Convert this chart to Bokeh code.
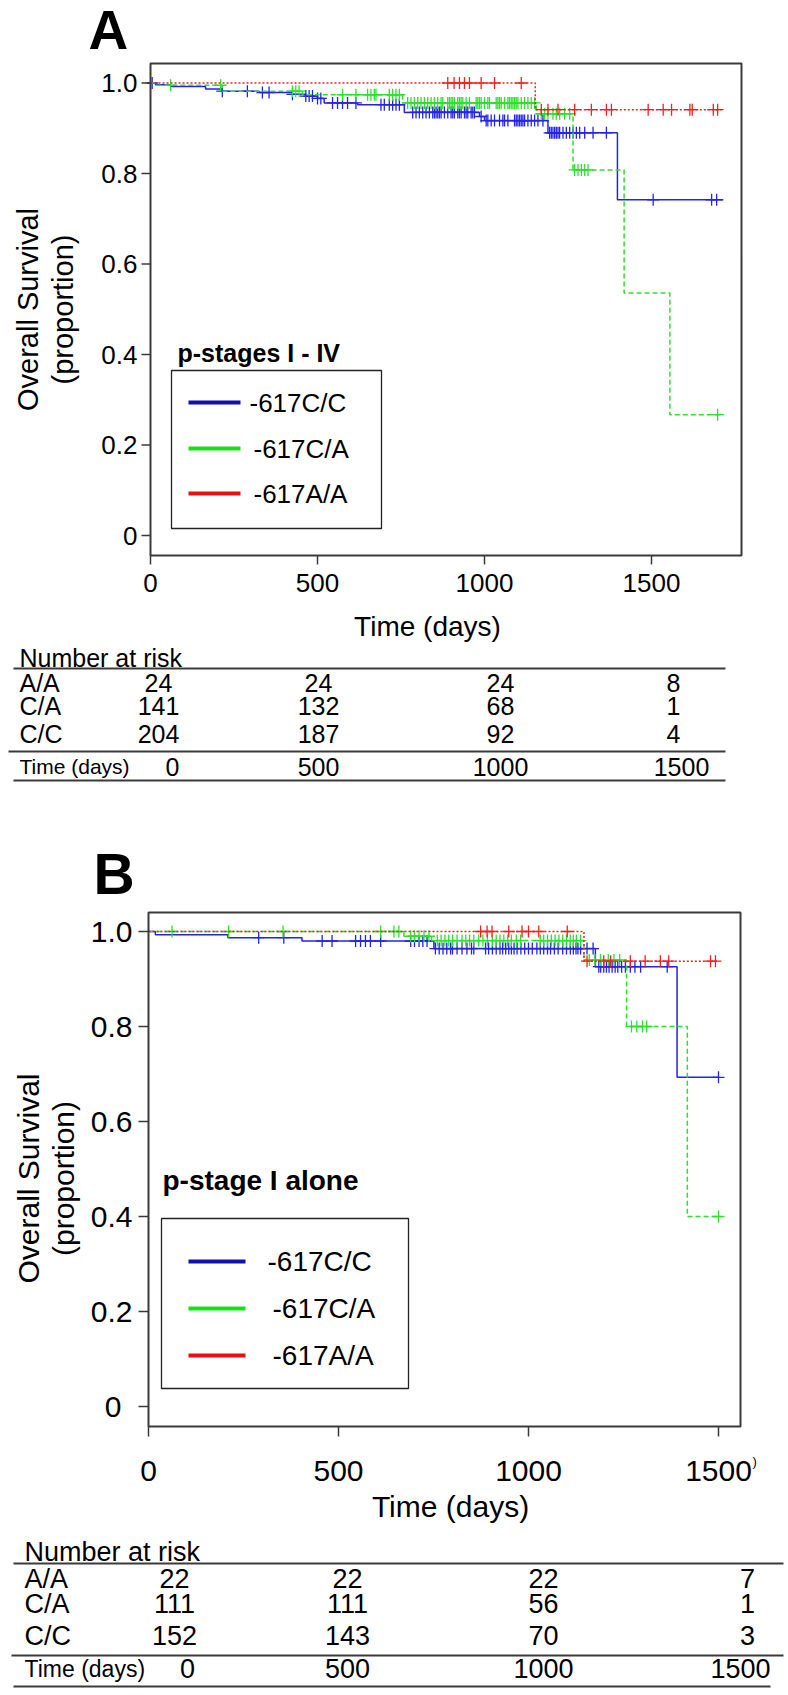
import math
import numpy as np
from bokeh.plotting import figure
from bokeh.models import Range1d
from bokeh.embed import file_html
from bokeh.resources import INLINE
from bokeh.core.properties import value

# ------------------------------------------------------------------ data
GENOTYPES = ["-617C/C", "-617C/A", "-617A/A"]
TIME_TICKS = [0, 500, 1000, 1500]
TIME_LABELS = ["0", "500", "1000", "1500"]
SURV_TICKS = [0, 0.2, 0.4, 0.6, 0.8, 1.0]
SURV_LABELS = ["0", "0.2", "0.4", "0.6", "0.8", "1.0"]

# Panel A: p-stages I - IV  (step times in days, survival after each step, censor times)
A_cc_t = [0, 15, 60, 165, 215, 325, 425, 465, 500, 520, 620, 760, 985, 1000, 1190, 1398, 1715]
A_cc_s = [1.0, 0.996, 0.992, 0.987, 0.982, 0.979, 0.975, 0.971, 0.966, 0.956, 0.952, 0.935,
          0.926, 0.917, 0.890, 0.742, 0.742]
A_cc_cens = [5, 215, 290, 335, 355, 425, 465, 475, 485, 500, 510, 545, 560, 575, 590, 615,
             690, 700, 715, 725, 735, 745, 785, 795, 805, 815, 825, 835, 845, 850, 855, 860,
             865, 870, 880, 890, 900, 905, 910, 920, 925, 930, 940, 945, 950, 960, 965, 970,
             990, 1005, 1010, 1020, 1030, 1045, 1055, 1060, 1070, 1090, 1095, 1100, 1105,
             1110, 1115, 1120, 1130, 1140, 1150, 1160, 1175, 1195, 1200, 1205, 1210, 1215,
             1220, 1225, 1235, 1245, 1255, 1265, 1275, 1285, 1300, 1325, 1365, 1505, 1680, 1695]

A_ca_t = [0, 15, 215, 455, 755, 1155, 1265, 1418, 1555, 1715]
A_ca_s = [1.0, 0.995, 0.982, 0.974, 0.956, 0.932, 0.808, 0.536, 0.267, 0.267]
A_ca_cens = [60, 210, 425, 435, 445, 575, 615, 650, 660, 670, 675, 715, 725, 735, 745, 770,
             780, 790, 800, 810, 820, 830, 840, 850, 860, 870, 875, 890, 895, 900, 905, 910,
             920, 925, 930, 935, 945, 955, 975, 980, 985, 990, 1000, 1010, 1015, 1035, 1040,
             1045, 1050, 1060, 1070, 1075, 1080, 1085, 1090, 1095, 1100, 1110, 1120, 1130,
             1140, 1150, 1170, 1180, 1190, 1205, 1215, 1225, 1240, 1255, 1270, 1280, 1290,
             1300, 1310, 1698]

A_aa_t = [0, 1152, 1710]
A_aa_s = [1.0, 0.941, 0.941]
A_aa_cens = [890, 909, 925, 940, 955, 990, 1030, 1110, 1170, 1190, 1220, 1270, 1320, 1365,
             1380, 1490, 1535, 1560, 1615, 1622, 1685, 1698]

# Panel B: p-stage I alone
B_cc_t = [0, 18, 209, 404, 751, 1176, 1391, 1500]
B_cc_s = [1.0, 0.993, 0.987, 0.980, 0.964, 0.926, 0.693, 0.693]
B_cc_cens = [290, 356, 457, 483, 545, 558, 571, 584, 611, 690, 700, 712, 722, 733, 755, 765,
             775, 785, 795, 800, 812, 825, 838, 850, 856, 887, 895, 905, 915, 925, 932, 940,
             948, 955, 962, 970, 980, 990, 1000, 1010, 1022, 1031, 1040, 1050, 1058, 1068,
             1078, 1090, 1100, 1110, 1118, 1125, 1130, 1137, 1154, 1170, 1185, 1190, 1198,
             1205, 1212, 1220, 1228, 1235, 1245, 1255, 1268, 1280, 1295, 1365, 1500]

B_ca_t = [0, 672, 745, 1146, 1258, 1418, 1505]
B_ca_s = [1.0, 0.99, 0.981, 0.94, 0.80, 0.40, 0.40]
B_ca_cens = [62, 211, 354, 611, 646, 659, 690, 700, 712, 725, 738, 760, 770, 780, 790, 800,
             812, 825, 835, 845, 856, 869, 880, 892, 905, 915, 925, 935, 945, 955, 968, 979,
             1031, 1040, 1050, 1060, 1070, 1080, 1090, 1100, 1110, 1118, 1126, 1137, 1160,
             1175, 1190, 1210, 1225, 1240, 1271, 1285, 1300, 1311, 1500]

B_aa_t = [0, 1146, 1500]
B_aa_s = [1.0, 0.9375, 0.9375]
B_aa_cens = [874, 891, 904, 948, 983, 1000, 1027, 1102, 1154, 1198, 1216, 1268, 1307, 1347,
             1369, 1479, 1492]

# Number-at-risk tables
RISK_ROWS = ["A/A", "C/A", "C/C"]
A_risk = [[24, 24, 24, 8], [141, 132, 68, 1], [204, 187, 92, 4]]
B_risk = [[22, 22, 22, 7], [111, 111, 56, 1], [152, 143, 70, 3]]

# ------------------------------------------------------------------ style / layout
FONT = "Liberation Sans"
CURVE_COLORS = ["#2424e8", "#2ee02e", "#f42020"]
LEGEND_COLORS = ["#1010b0", "#18e018", "#e81010"]
DASHES = ["solid", "5 3", "2 2"]
BOX = "#3a3a3a"

PX0, PY0, W, H = 0, 0, 788, 1695          # page area covered by the canvas

p = figure(width=W, height=H, x_range=Range1d(PX0, PX0 + W), y_range=Range1d(PY0 + H, PY0),
           min_border=0, x_axis_type=None, y_axis_type=None,
           output_backend="svg", toolbar_location=None)
p.outline_line_color = None
p.background_fill_color = "white"
p.border_fill_color = "white"


def step_value(times, surv, t):
    i = np.searchsorted(np.asarray(times), t, side="right") - 1
    return float(np.asarray(surv)[max(i, 0)])


def text(xs, ys, texts, size, align="left", bold=False, angle=0.0, baseline="middle",
         **kw):
    p.text(x=xs, y=ys, text=texts, text_font=value(FONT), text_font_size=value(f"{size}px"),
           text_font_style="bold" if bold else "normal", text_align=align,
           text_baseline=baseline, angle=angle, text_color="black", **kw)


def km_panel(cfg, curves):
    fl, fr, ft, fb = cfg["frame"]
    kx, ky = cfg["kx"], cfg["ky"]
    x0_px, y0_px = cfg["x0_px"], cfg["y0_px"]
    tn, sn = "t" + cfg["letter"], "s" + cfg["letter"]
    p.extra_x_ranges[tn] = Range1d((PX0 - x0_px) / kx, (PX0 + W - x0_px) / kx)
    p.extra_y_ranges[sn] = Range1d((y0_px - (PY0 + H)) / ky, (y0_px - PY0) / ky)

    # curves and censor marks (through the panel's own scales)
    for (t, s, cens), col, dash in zip(curves, CURVE_COLORS, DASHES):
        p.step(x=t, y=s, mode="after", line_color=col, line_width=1.5, line_dash=dash,
               x_range_name=tn, y_range_name=sn)
        cy = [step_value(t, s, c) for c in cens]
        p.scatter(x=cens, y=cy, marker="cross", size=12, line_color=col, line_width=1.3,
                  x_range_name=tn, y_range_name=sn)

    # plot box
    p.quad(left=[fl], right=[fr], top=[ft], bottom=[fb], fill_color=None, line_color=BOX,
           line_width=2)

    # x axis ticks + labels
    n = len(TIME_TICKS)
    p.segment(x0=TIME_TICKS, x1=TIME_TICKS, y0=[fb] * n, y1=[fb + cfg["xtick_out"]] * n,
              line_color=BOX, line_width=1.5, x_range_name=tn)
    text(TIME_TICKS, [cfg["xlab_tick_y"]] * n, TIME_LABELS, cfg["xtick_fs"], align="center",
         x_range_name=tn)
    # y axis ticks + labels
    m = len(SURV_TICKS)
    p.segment(x0=[fl - cfg["ytick_out"]] * m, x1=[fl] * m, y0=SURV_TICKS, y1=SURV_TICKS,
              line_color=BOX, line_width=1.5, y_range_name=sn)
    lab_x = [fl - cfg["ytick_out"] - cfg["ystand"] - d for d in cfg["ylab_shift"]]
    text(lab_x, SURV_TICKS, SURV_LABELS, cfg["ytick_fs"], align="right", y_range_name=sn)

    # panel letter, axis titles
    text([cfg["letter_x"]], [cfg["letter_y"]], [cfg["letter"]], cfg["letter_fs"], bold=True)
    text([27.5], [cfg["ylab_y"]], ["Overall Survival"], cfg["ylab_fs"], align="center",
         angle=math.pi / 2)
    text([62.5], [cfg["ylab_y"]], ["(proportion)"], cfg["ylab_fs"], align="center",
         angle=math.pi / 2)
    text([cfg["xlab_x"]], [cfg["xlab_y"]], ["Time (days)"], cfg["xlab_fs"], align="center")

    # legend
    lx0, lx1, lt, lb = cfg["leg_box"]
    p.quad(left=[lx0], right=[lx1], top=[lt], bottom=[lb], fill_color=None,
           line_color="#222222", line_width=1.3)
    text([cfg["leg_title_x"]], [cfg["leg_title_y"]], [cfg["leg_title"]], cfg["leg_title_fs"],
         bold=True)
    sx0, sx1 = cfg["leg_line_x"]
    ys = list(cfg["leg_ys"])
    p.segment(x0=[sx0] * 3, x1=[sx1] * 3, y0=ys, y1=ys, line_color=LEGEND_COLORS,
              line_width=4)
    text(list(cfg["leg_text_x"]), ys, GENOTYPES, cfg["leg_fs"])


def risk_table(cfg, values):
    lx = cfg["label_x"]
    text([lx], [cfg["title_y"]], ["Number at risk"], cfg["fs"])
    text([lx] * 3, list(cfg["row_ys"]), RISK_ROWS, cfg["fs"])
    vx, vy, vt = [], [], []
    for r, yy in zip(values, cfg["row_ys"]):
        for v, cx in zip(r, cfg["col_x"]):
            vx.append(cx)
            vy.append(yy)
            vt.append(str(v))
    text(vx, vy, vt, cfg["fs"], align="center")
    text([lx], [cfg["time_y"]], ["Time (days)"], cfg["time_fs"])
    text(list(cfg["time_x"]), [cfg["time_y"]] * 4, TIME_LABELS, cfg["fs"], align="center")
    segs = cfg["lines"]
    p.segment(x0=[a for a, b, y in segs], x1=[b for a, b, y in segs],
              y0=[y for a, b, y in segs], y1=[y for a, b, y in segs],
              line_color=BOX, line_width=2)


cfgA = dict(frame=(150, 741, 63, 555), kx=501 / 1500, ky=452.5, x0_px=150, y0_px=535,
            xtick_out=9, ytick_out=9, xtick_fs=26, ytick_fs=26, xlab_tick_y=582, ystand=4,
            ylab_shift=(0, 0, 0, 0, 0, 0),
            letter="A", letter_x=88, letter_y=29, letter_fs=55,
            ylab_y=309, ylab_fs=29, xlab_x=427, xlab_y=626, xlab_fs=28,
            leg_box=(171, 381, 370, 528), leg_title="p-stages I - IV", leg_title_x=177,
            leg_title_y=352, leg_title_fs=25, leg_line_x=(188, 240), leg_ys=(402, 448, 493),
            leg_text_x=(249, 253, 253), leg_fs=26)
cfgB = dict(frame=(148, 740, 912, 1426), kx=0.38, ky=475, x0_px=148, y0_px=1406,
            xtick_out=10, ytick_out=10, xtick_fs=30, ytick_fs=30, xlab_tick_y=1470, ystand=6,
            ylab_shift=(11, 0, 0, 0, 0, 0),
            letter="B", letter_x=93, letter_y=873, letter_fs=57,
            ylab_y=1178, ylab_fs=30, xlab_x=450, xlab_y=1506, xlab_fs=30,
            leg_box=(161, 408, 1218, 1388), leg_title="p-stage I alone", leg_title_x=162,
            leg_title_y=1180, leg_title_fs=28, leg_line_x=(188, 245),
            leg_ys=(1261, 1308, 1355), leg_text_x=(267, 272, 272), leg_fs=28)

tabA = dict(fs=25, time_fs=21, label_x=19, title_y=657,
            row_ys=(682, 705, 733), col_x=(158, 318, 500, 673), time_y=766,
            time_x=(172, 318, 500, 681),
            lines=[(13, 725, 668), (8, 725, 751), (13, 725, 780)])
tabB = dict(fs=27, time_fs=23, label_x=24, title_y=1551,
            row_ys=(1578, 1603, 1635), col_x=(174, 347, 543, 747), time_y=1668,
            time_x=(187, 347, 543, 740),
            lines=[(13, 783, 1563), (11, 783, 1655), (13, 770, 1686)])

km_panel(cfgA, [(A_cc_t, A_cc_s, A_cc_cens), (A_ca_t, A_ca_s, A_ca_cens),
                (A_aa_t, A_aa_s, A_aa_cens)])
km_panel(cfgB, [(B_cc_t, B_cc_s, B_cc_cens), (B_ca_t, B_ca_s, B_ca_cens),
                (B_aa_t, B_aa_s, B_aa_cens)])
text([752], [1461], [")"], 13)          # small stray mark after the last tick label of B

risk_table(tabA, A_risk)
risk_table(tabB, B_risk)

open("out.html", "w").write(file_html(p, INLINE))
